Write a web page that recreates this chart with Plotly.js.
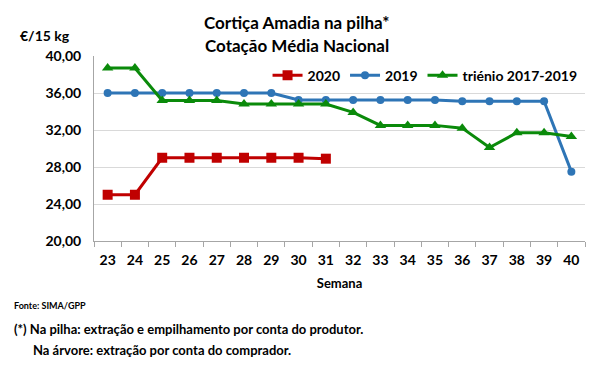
<!DOCTYPE html>
<html><head><meta charset="utf-8">
<script src="https://cdn.plot.ly/plotly-3.0.1.min.js"></script>
<style>body{margin:0;background:#fff}#c{width:594px;height:376px}</style>
</head><body><div id="c"></div>
<script>
const semanas = ["23","24","25","26","27","28","29","30","31","32","33","34","35","36","37","38","39","40"];
const v2020 = [25.0,25.0,29.0,29.0,29.0,29.0,29.0,29.0,28.9];
const v2019 = [36.0,36.0,36.0,36.0,36.0,36.0,36.0,35.25,35.25,35.25,35.25,35.25,35.25,35.1,35.1,35.1,35.1,27.5];
const vTrienio = [38.7,38.7,35.2,35.2,35.2,34.8,34.8,34.8,34.8,33.9,32.5,32.5,32.5,32.2,30.1,31.7,31.7,31.3];
const yTicks = [20,24,28,32,36,40];

const F = "Lato, 'Open Sans', sans-serif";
const traces = [
  {x: semanas.slice(0, v2020.length), y: v2020, name: "2020", type: "scatter", mode: "lines+markers",
   line: {color: "#C00000", width: 3}, marker: {symbol: "square", size: 10, color: "#C00000"}},
  {x: semanas, y: v2019, name: "2019", type: "scatter", mode: "lines+markers",
   line: {color: "#2E75B6", width: 3}, marker: {symbol: "circle", size: 8, color: "#2E75B6"}},
  {x: semanas, y: vTrienio, name: "triénio 2017-2019", type: "scatter", mode: "lines+markers",
   line: {color: "#0A8A0A", width: 3}, marker: {symbol: "triangle-up", size: 10, color: "#0A8A0A"}}
];
const layout = {
  width: 594, height: 376,
  margin: {l: 94, r: 9, t: 56, b: 135},
  paper_bgcolor: "#fff", plot_bgcolor: "#fff",
  separators: ",.",
  font: {family: F, color: "#000"},
  showlegend: true,
  legend: {orientation: "h", x: 0.995, xanchor: "right", y: 0.98, yanchor: "top",
           font: {size: 14, family: F, color: "#000", weight: "bold"}, bgcolor: "rgba(0,0,0,0)",
           itemwidth: 30, tracegroupgap: 0},
  xaxis: {type: "category", range: [-0.5, 17.5], tickson: "boundaries", ticks: "outside", ticklen: 5,
          tickcolor: "#A6A6A6", showline: true, linecolor: "#A6A6A6", linewidth: 1, showgrid: false,
          ticklabelstandoff: 6,
          tickfont: {size: 14, family: F, color: "#000", weight: "bold"},
          title: {text: "<b>Semana</b>", font: {size: 13, family: F, color: "#000"}, standoff: 12}},
  yaxis: {range: [20, 40], tickvals: yTicks, tickformat: ".2f", showgrid: true, gridcolor: "#D9D9D9",
          gridwidth: 1, showline: true, linecolor: "#A6A6A6", linewidth: 1, zeroline: false,
          ticks: "", ticklabelstandoff: 9, tickfont: {size: 14, family: F, color: "#000", weight: "bold"}},
  annotations: [
    {text: "<b>Cortiça Amadia na pilha*</b>", xref: "paper", yref: "paper", x: 0.413, y: 1.0, yshift: 34, xanchor: "center", yanchor: "middle",
     showarrow: false, font: {size: 17, family: F, color: "#000"}},
    {text: "<b>Cotação Média Nacional</b>", xref: "paper", yref: "paper", x: 0.413, y: 1.0, yshift: 11, xanchor: "center", yanchor: "middle",
     showarrow: false, font: {size: 17, family: F, color: "#000"}},
    {text: "<b>€/15 kg</b>", xref: "paper", yref: "paper", x: -0.155, y: 1.0, yshift: 21, xanchor: "left", yanchor: "middle",
     showarrow: false, font: {size: 14, family: F, color: "#000"}},
    {text: "<b>Fonte: SIMA/GPP</b>", xref: "paper", yref: "paper", x: -0.168, y: 0, yshift: -64, xanchor: "left", yanchor: "middle",
     showarrow: false, font: {size: 9, family: F, color: "#000"}},
    {text: "<b>(*) Na pilha: extração e empilhamento por conta do produtor.</b>", xref: "paper", yref: "paper",
     x: -0.168, y: 0, yshift: -88, xanchor: "left", yanchor: "middle", showarrow: false, font: {size: 13, family: F, color: "#000"}},
    {text: "<b>Na árvore: extração por conta do comprador.</b>", xref: "paper", yref: "paper",
     x: -0.128, y: 0, yshift: -109, xanchor: "left", yanchor: "middle", showarrow: false, font: {size: 13, family: F, color: "#000"}}
  ]
};
Plotly.newPlot("c", traces, layout, {displayModeBar: false, staticPlot: true});
</script></body></html>
